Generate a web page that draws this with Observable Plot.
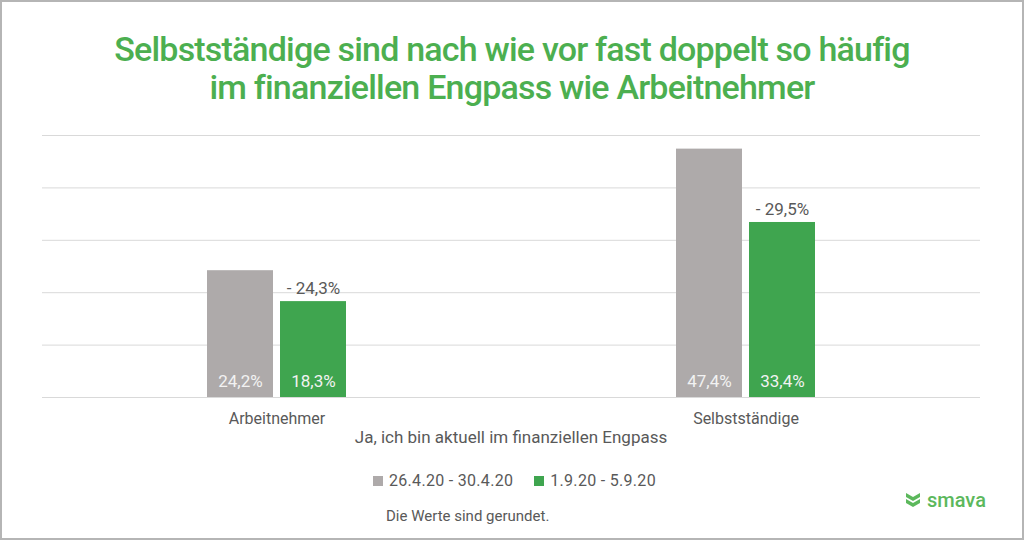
<!DOCTYPE html>
<html>
<head>
<meta charset="utf-8">
<script src="https://cdn.jsdelivr.net/npm/d3@7"></script>
<script src="https://cdn.jsdelivr.net/npm/@observablehq/plot@0.6"></script>
<style>
  html, body { margin: 0; padding: 0; background: #fff; }
  body { width: 1024px; height: 540px; position: relative; overflow: hidden; font-family: Roboto, "Noto Sans", sans-serif; }
  #border { position: absolute; left: 0; top: 0; width: 1024px; height: 540px; box-sizing: border-box; border: 2px solid #b5b5b5; pointer-events: none; }
  #title { position: absolute; left: 0; top: 30px; width: 1024px; text-align: center; color: #4caf50; font-size: 34px; line-height: 38px; font-weight: 500; letter-spacing: -0.8px; }
  #chart { position: absolute; left: 0; top: 110px; }
  #xlabel { position: absolute; left: 0; width: 1022px; top: 427px; text-align: center; font-size: 17px; color: #595959; line-height: 20px; }
  #legend { position: absolute; left: 373px; top: 471px; font-size: 16px; letter-spacing: 0.3px; color: #595959; display: flex; align-items: center; line-height: 20px; }
  #legend .item { display: flex; align-items: center; margin-right: 21px; }
  #legend .sw { width: 10px; height: 10px; margin-right: 6px; }
  #caption { position: absolute; left: 386px; top: 506px; font-size: 15px; color: #595959; line-height: 20px; }
  #logo { position: absolute; left: 904px; top: 488px; display: flex; align-items: center; color: #5cb85c; font-size: 20px; font-weight: 500; }
</style>
</head>
<body>
<div id="title">Selbstständige sind nach wie vor fast doppelt so häufig<br>im finanziellen Engpass wie Arbeitnehmer</div>
<div id="chart"></div>
<div id="xlabel"></div>
<div id="legend"></div>
<div id="caption">Die Werte sind gerundet.</div>
<div id="logo"><svg width="18" height="18" viewBox="0 0 18 18" style="margin-right:5px"><path d="M2 2 L9 6 L16 2 L16 6 L9 10 L2 6 Z" fill="#5cb85c"/><path d="M2 8 L9 12 L16 8 L16 12 L9 16 L2 12 Z" fill="#5cb85c"/></svg><span>smava</span></div>
<div id="border"></div>
<script>
const categories = ["Arbeitnehmer", "Selbstständige"];
const series = ["26.4.20 - 30.4.20", "1.9.20 - 5.9.20"];
const colors = ["#aeaaaa", "#3fa54f"];
const valuesSeries1 = [24.2, 47.4];
const valuesSeries2 = [18.3, 33.4];
const valueLabels1 = ["24,2%", "47,4%"];
const valueLabels2 = ["18,3%", "33,4%"];
const changeLabels = ["- 24,3%", "- 29,5%"];
const gridValues = [0, 10, 20, 30, 40, 50];
const axisLabel = "Ja, ich bin aktuell im finanziellen Engpass";

const data = [];
categories.forEach((c, i) => {
  data.push({category: c, series: series[0], value: valuesSeries1[i], label: valueLabels1[i]});
  data.push({category: c, series: series[1], value: valuesSeries2[i], label: valueLabels2[i]});
});
const changes = categories.map((c, i) => ({category: c, series: series[1], value: valuesSeries2[i], label: changeLabels[i]}));

const chart = Plot.plot({
  width: 1024,
  height: 320,
  marginLeft: 41,
  marginRight: 44,
  marginTop: 25,
  marginBottom: 33,
  style: {fontFamily: "Roboto, sans-serif", fontSize: "16px", color: "#595959", background: "transparent"},
  fx: {domain: categories, padding: 0, axis: "bottom", tickSize: 0, tickPadding: 15, label: null},
  x: {domain: series, paddingInner: 0.096, paddingOuter: 2.26, axis: null},
  y: {domain: [0, 50], axis: null},
  color: {domain: series, range: colors},
  marks: [
    Plot.ruleY(gridValues, {y: d => d, stroke: "#d9d9d9", strokeWidth: 1}),
    Plot.barY(data, {fx: "category", x: "series", y: "value", fill: "series"}),
    Plot.text(data, {fx: "category", x: "series", y: 0, text: "label", dy: -16, fill: "#f2f2f2", fontSize: 17}),
    Plot.text(changes, {fx: "category", x: "series", y: "value", text: "label", dy: -13, fill: "#595959", fontSize: 17})
  ]
});
document.getElementById("chart").appendChild(chart);
document.getElementById("xlabel").textContent = axisLabel;

const legend = document.getElementById("legend");
series.forEach((s, i) => {
  const item = document.createElement("div");
  item.className = "item";
  const sw = document.createElement("div");
  sw.className = "sw";
  sw.style.background = colors[i];
  const t = document.createElement("span");
  t.textContent = s;
  item.appendChild(sw);
  item.appendChild(t);
  legend.appendChild(item);
});
</script>
</body>
</html>
